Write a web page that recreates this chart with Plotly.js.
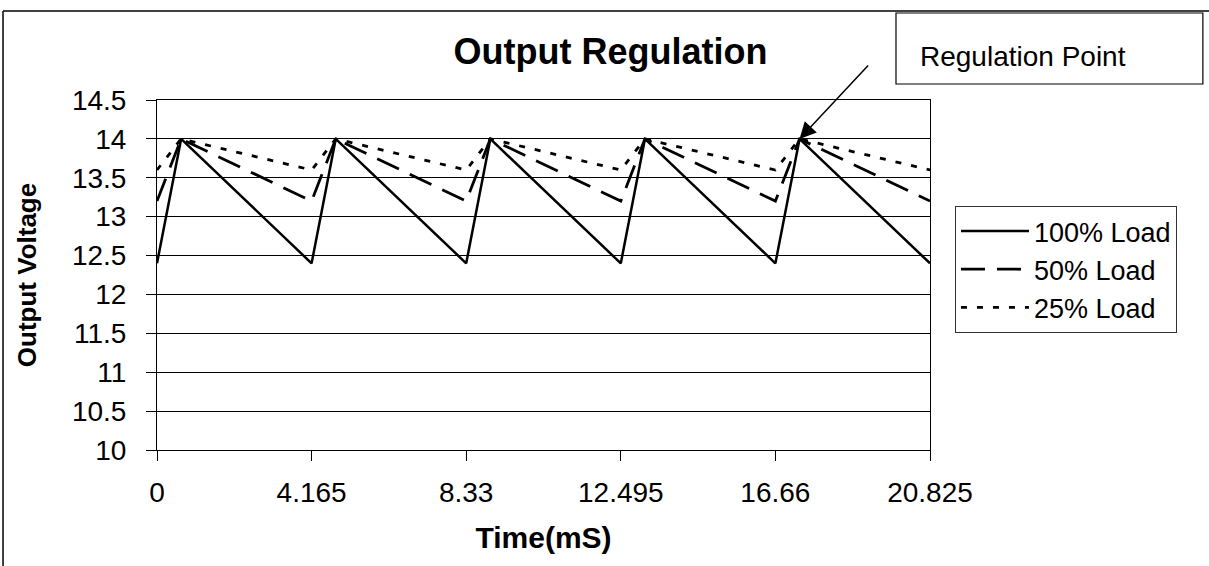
<!DOCTYPE html>
<html>
<head>
<meta charset="utf-8">
<script src="https://cdn.plot.ly/plotly-3.0.1.min.js"></script>
<style>
  html, body { margin: 0; padding: 0; background: #fff; }
  #chart { width: 1209px; height: 566px; }
</style>
</head>
<body>
<div id="chart"></div>
<script>
// Data
const timeMs   = [0, 0.65, 4.165, 4.815, 8.33, 8.98, 12.495, 13.145, 16.66, 17.31, 20.825];
const load100  = [12.4, 14, 12.4, 14, 12.4, 14, 12.4, 14, 12.4, 14, 12.4];
const load50   = [13.2, 14, 13.2, 14, 13.2, 14, 13.2, 14, 13.2, 14, 13.2];
const load25   = [13.6, 14, 13.6, 14, 13.6, 14, 13.6, 14, 13.6, 14, 13.6];
const seriesNames = ['100% Load', '50% Load', '25% Load'];
const xTickVals = [0, 4.165, 8.33, 12.495, 16.66, 20.825];
const xTickText = ['0', '4.165', '8.33', '12.495', '16.66', '20.825'];
const yTickVals = [10, 10.5, 11, 11.5, 12, 12.5, 13, 13.5, 14, 14.5];
const yTickText = ['10', '10.5', '11', '11.5', '12', '12.5', '13', '13.5', '14', '14.5'];
const regulationIndex = 9;

const FONT = 'Arial, "Liberation Sans", sans-serif';

const traces = [
  { x: timeMs, y: load100, name: seriesNames[0], mode: 'lines',
    line: { color: '#000', width: 2.5, dash: 'solid' } },
  { x: timeMs, y: load50, name: seriesNames[1], mode: 'lines',
    line: { color: '#000', width: 2.8, dash: '24px,12px' } },
  { x: timeMs, y: load25, name: seriesNames[2], mode: 'lines',
    line: { color: '#000', width: 2.8, dash: '6px,10px' } }
];

const layout = {
  width: 1209, height: 566,
  paper_bgcolor: '#fff', plot_bgcolor: '#fff',
  margin: { l: 157, r: 279, t: 100, b: 116 },
  font: { family: FONT, color: '#000' },
  showlegend: true,
  title: {
    text: '<b>Output Regulation</b>',
    font: { family: FONT, size: 36, color: '#000' },
    x: 0.505, xref: 'container', xanchor: 'center',
    y: 0.91, yref: 'container', yanchor: 'middle'
  },
  xaxis: {
    range: [0, 20.825],
    tickmode: 'array', tickvals: xTickVals, ticktext: xTickText,
    ticks: 'outside', ticklen: 10, tickcolor: '#000', tickwidth: 1,
    showline: true, linecolor: '#000', linewidth: 1, mirror: true,
    showgrid: false, zeroline: false,
    tickfont: { family: FONT, size: 28, color: '#000' },
    ticklabelstandoff: 7,
    title: { text: '<b>Time(mS)</b>', font: { family: FONT, size: 30, color: '#000' }, standoff: 20 }
  },
  yaxis: {
    range: [10, 14.5],
    tickmode: 'array', tickvals: yTickVals, ticktext: yTickText,
    ticks: 'outside', ticklen: 10, tickcolor: '#000', tickwidth: 1,
    showline: true, linecolor: '#000', linewidth: 1, mirror: true,
    showgrid: true, gridcolor: '#000', gridwidth: 1, zeroline: false,
    tickfont: { family: FONT, size: 28, color: '#000' },
    ticklabelstandoff: 14,
    title: { text: '<b>Output Voltage</b>', font: { family: FONT, size: 26, color: '#000' }, standoff: 27 }
  },
  legend: {
    x: 1.0323, xanchor: 'left', y: 0.697, yanchor: 'top',
    bgcolor: '#fff', bordercolor: '#333', borderwidth: 1,
    font: { family: FONT, size: 27, color: '#000' },
    itemwidth: 68, traceorder: 'normal'
  },
  shapes: [
    // "Regulation Point" text box
    { type: 'rect', xref: 'paper', yref: 'paper', x0: 0.956, x1: 1.353, y0: 1.0457, y1: 1.2486,
      line: { color: '#000', width: 1.2 }, fillcolor: 'rgba(0,0,0,0)' },
    // outer chart border (top and left edges visible)
    { type: 'line', xref: 'paper', yref: 'paper', x0: -0.1992, x1: 1.4, y0: 1.254, y1: 1.254,
      line: { color: '#000', width: 1.5 } },
    { type: 'line', xref: 'paper', yref: 'paper', x0: -0.1992, x1: -0.1992, y0: 1.254, y1: -0.34,
      line: { color: '#000', width: 1.5 } }
  ],
  annotations: [
    { xref: 'paper', yref: 'paper', x: 0.984, y: 1.123, xanchor: 'left', yanchor: 'middle',
      text: 'Regulation Point', showarrow: false,
      font: { family: FONT, size: 28, color: '#000' } },
    { x: timeMs[regulationIndex], y: load100[regulationIndex], xref: 'x', yref: 'y',
      text: '', showarrow: true, ax: 70, ay: -75,
      arrowhead: 2, arrowsize: 2.2, arrowwidth: 1.5, arrowcolor: '#000' }
  ]
};

Plotly.newPlot('chart', traces, layout, { displayModeBar: false, staticPlot: true });
</script>
</body>
</html>
